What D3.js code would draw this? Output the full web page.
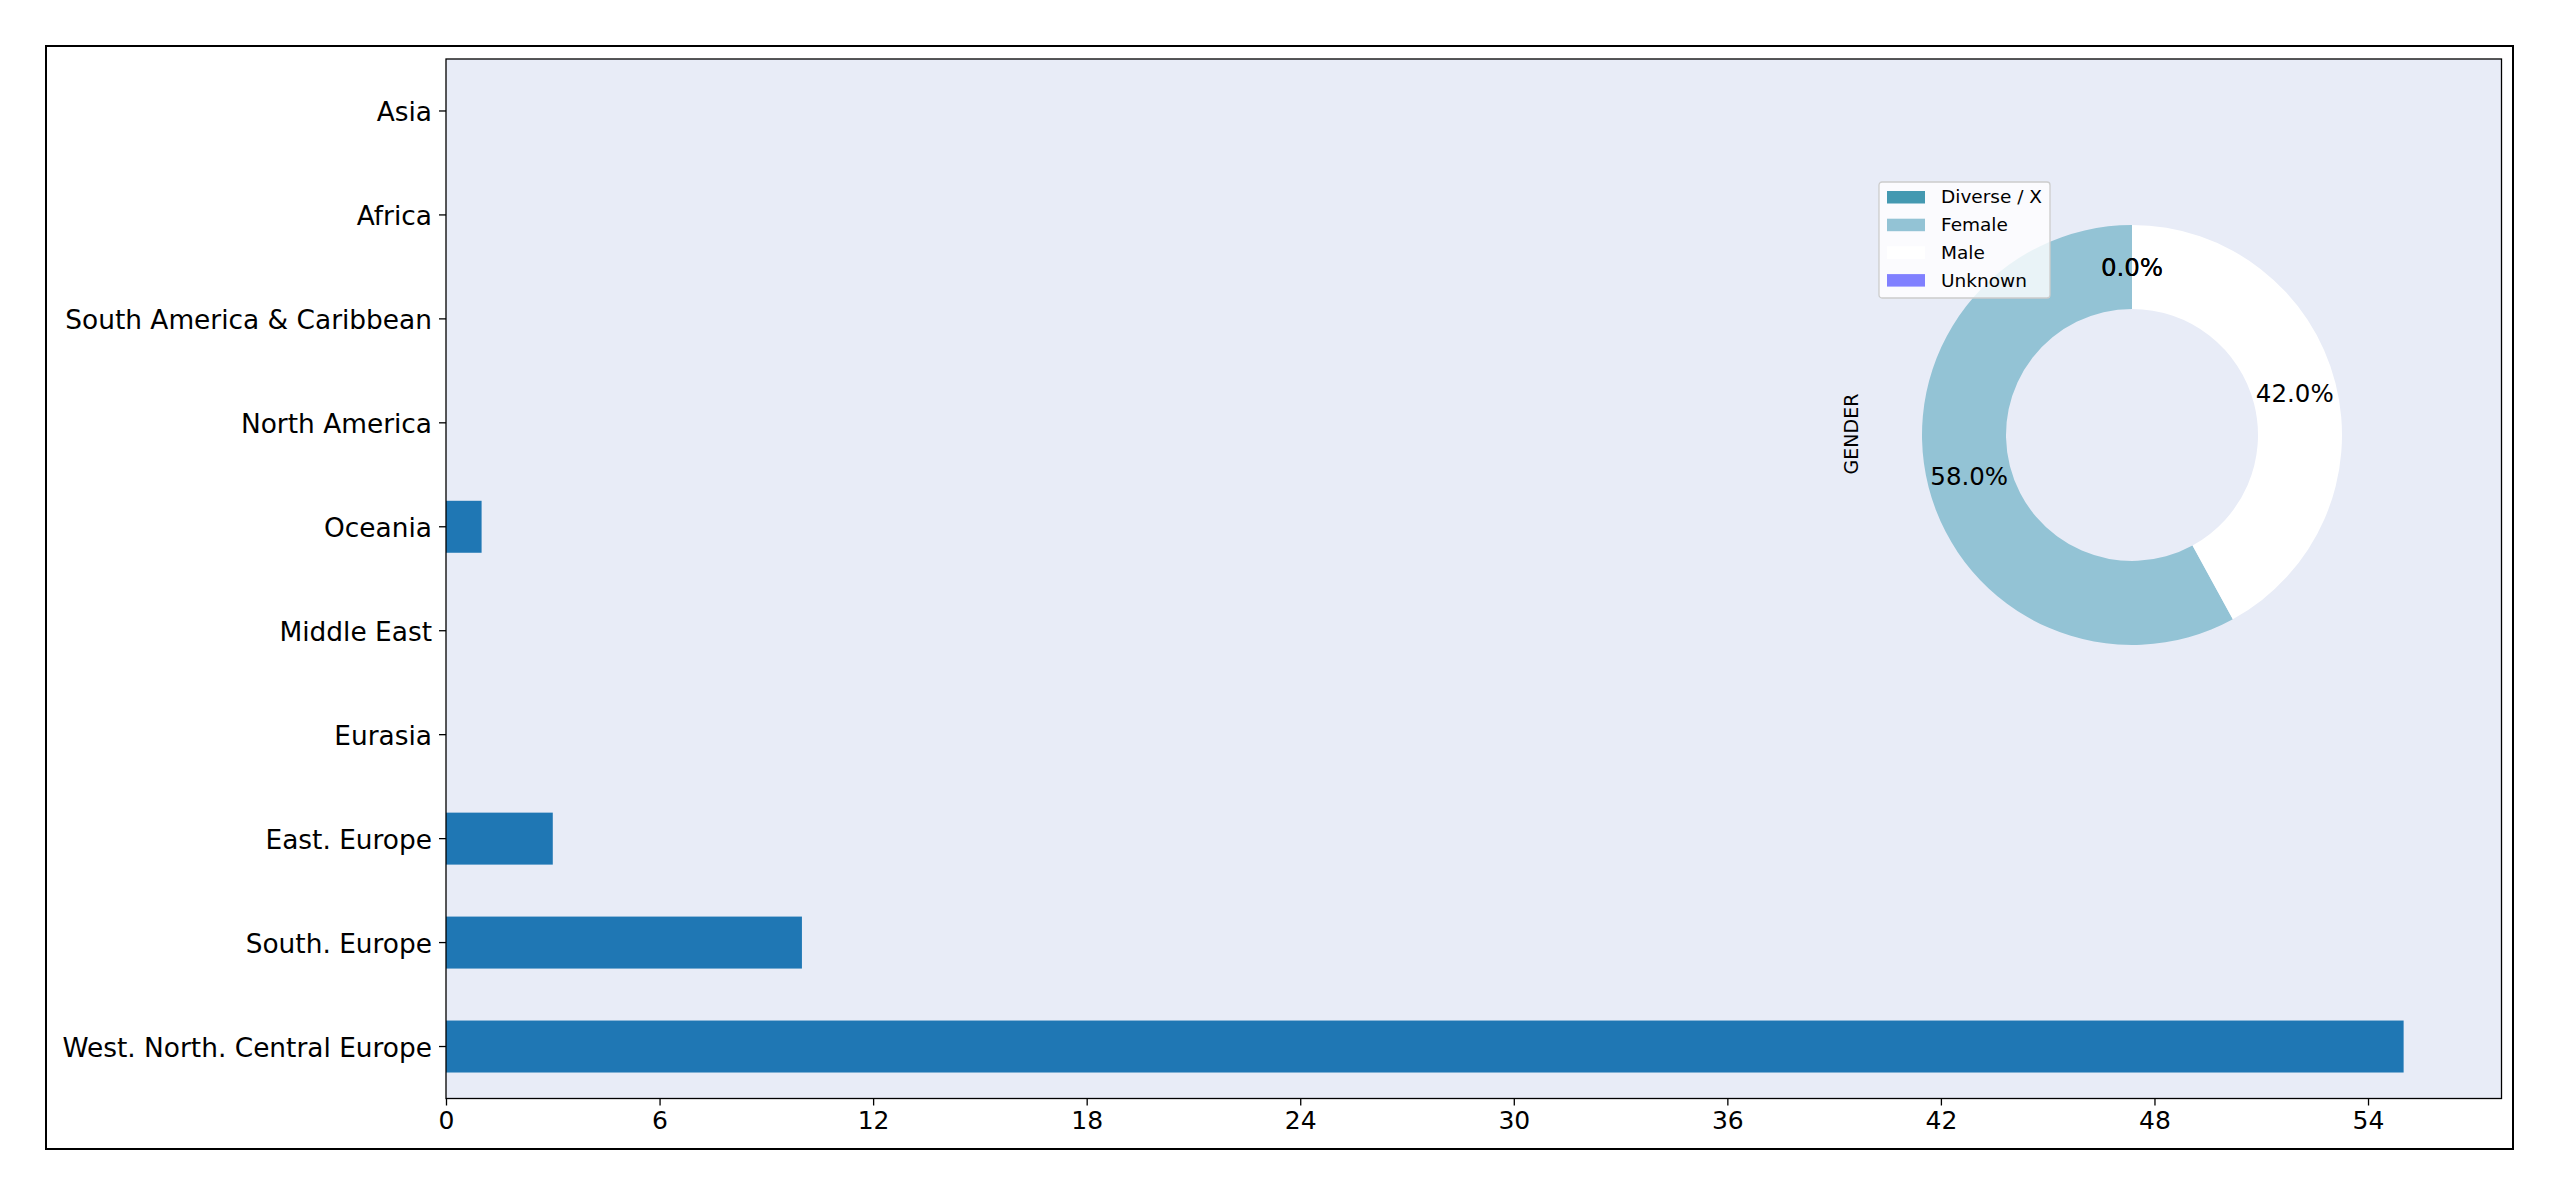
<!DOCTYPE html>
<head>
  <meta charset="utf-8">
  <style>
    body { margin: 0; background: #fff; }
    text { font-family: "DejaVu Sans", sans-serif; fill: #000; }
    .axis path, .axis line { stroke: #000; stroke-width: 1.3px; }
    .axis text { font-size: 25px; }
    .yaxis text { font-size: 26.4px; }
  </style>
</head>
<body>
  <svg width="2560" height="1197"></svg>
  <script src="https://d3js.org/d3.v7.min.js"></script>
  <script>

  // region counts (top to bottom as shown)
  var regions = ["Asia", "Africa", "South America & Caribbean", "North America", "Oceania",
                 "Middle East", "Eurasia", "East. Europe", "South. Europe", "West. North. Central Europe"];
  var regionCounts = [0, 0, 0, 0, 1, 0, 0, 3, 10, 55];
  var xTicks = [0, 6, 12, 18, 24, 30, 36, 42, 48, 54];

  // gender donut
  var genders = ["Diverse / X", "Female", "Male", "Unknown"];
  var genderCounts = [0, 40, 29, 0];
  var genderColors = ["#4499b1", "#93c3d5", "#ffffff", "#8080ff"];

  var svg = d3.select("svg");

  // figure frame
  svg.append("rect")
      .attr("x", 46).attr("y", 46)
      .attr("width", 2467).attr("height", 1103)
      .attr("fill", "none").attr("stroke", "#000").attr("stroke-width", 2);

  var plot = { left: 446, top: 59, right: 2501.5, bottom: 1098.5 };

  svg.append("rect")
      .attr("x", plot.left).attr("y", plot.top)
      .attr("width", plot.right - plot.left).attr("height", plot.bottom - plot.top)
      .attr("fill", "#e8ecf7");

  var x = d3.scaleLinear()
      .domain([0, d3.max(regionCounts) * 1.05])
      .range([plot.left, plot.right]);

  var y = d3.scaleBand()
      .domain(regions)
      .range([plot.top, plot.bottom])
      .paddingInner(0.5)
      .paddingOuter(0.25);

  svg.append("g").selectAll("rect")
      .data(regions)
    .enter().append("rect")
      .attr("x", x(0))
      .attr("y", function(d) { return y(d); })
      .attr("width", function(d, i) { return x(regionCounts[i]) - x(0); })
      .attr("height", y.bandwidth())
      .attr("fill", "#1f77b4");

  // axes
  var xAxis = svg.append("g")
      .attr("class", "axis")
      .attr("transform", "translate(0," + plot.bottom + ")")
      .call(d3.axisBottom(x).tickValues(xTicks).tickSize(7).tickPadding(6).tickSizeOuter(0));
  xAxis.select(".domain").remove();

  var yAxis = svg.append("g")
      .attr("class", "axis yaxis")
      .attr("transform", "translate(" + plot.left + ",0)")
      .call(d3.axisLeft(y).tickSize(7).tickPadding(7).tickSizeOuter(0));
  yAxis.select(".domain").remove();
  yAxis.selectAll("text").attr("dy", "0.38em");

  // spines
  svg.append("rect")
      .attr("x", plot.left).attr("y", plot.top)
      .attr("width", plot.right - plot.left).attr("height", plot.bottom - plot.top)
      .attr("fill", "none").attr("stroke", "#000").attr("stroke-width", 1.3);

  // donut
  var cx = 2132, cy = 435, rOut = 210, rIn = 126;
  var pie = d3.pie().sort(null).startAngle(0).endAngle(-2 * Math.PI);
  var arcs = pie(genderCounts);
  var arc = d3.arc().innerRadius(rIn).outerRadius(rOut);
  var labelArc = d3.arc().innerRadius(rOut * 0.8).outerRadius(rOut * 0.8);

  var donut = svg.append("g").attr("transform", "translate(" + cx + "," + cy + ")");
  donut.selectAll("path")
      .data(arcs)
    .enter().append("path")
      .attr("d", arc)
      .attr("fill", function(d, i) { return genderColors[i]; });

  donut.selectAll("text")
      .data(arcs)
    .enter().append("text")
      .attr("transform", function(d) { return "translate(" + labelArc.centroid(d) + ")"; })
      .attr("text-anchor", "middle")
      .attr("dy", "0.35em")
      .style("font-size", "24.5px")
      .text(function(d, i) { return (100 * genderCounts[i] / d3.sum(genderCounts)).toFixed(1) + "%"; });

  svg.append("text")
      .attr("transform", "translate(1858,434) rotate(-90)")
      .attr("text-anchor", "middle")
      .style("font-size", "19px")
      .text("GENDER");

  // legend
  var legend = svg.append("g").attr("transform", "translate(1879,182)");
  legend.append("rect")
      .attr("width", 171).attr("height", 116)
      .attr("rx", 3)
      .attr("fill", "#fff").attr("fill-opacity", 0.8)
      .attr("stroke", "#ccc").attr("stroke-width", 1.3);

  var item = legend.selectAll(".item")
      .data(genders)
    .enter().append("g")
      .attr("class", "item")
      .attr("transform", function(d, i) { return "translate(0," + (15 + i * 27.7) + ")"; });
  item.append("rect")
      .attr("x", 8).attr("y", -6)
      .attr("width", 38).attr("height", 12.5)
      .attr("fill", function(d, i) { return genderColors[i]; });
  item.append("text")
      .attr("x", 62)
      .attr("dy", "0.35em")
      .style("font-size", "18.5px")
      .text(function(d) { return d; });

  </script>
</body>
</html>
